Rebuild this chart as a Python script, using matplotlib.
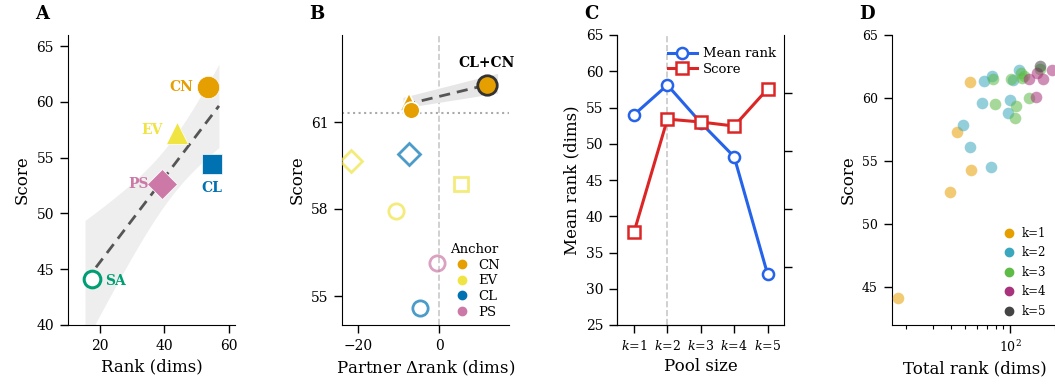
import numpy as np
import matplotlib
matplotlib.use("Agg")
import matplotlib.pyplot as plt
from matplotlib.lines import Line2D

plt.rcParams["font.family"] = "serif"
plt.rcParams["font.serif"] = ["DejaVu Serif"]
plt.rcParams["mathtext.fontset"] = "dejavuserif"

# ---- panel A: single encoders ----
names = ["SA", "PS", "EV", "CN", "CL"]
rank = [17.6, 39.4, 43.9, 53.7, 54.7]
score = [44.1, 52.6, 57.2, 61.3, 54.4]

# ---- panel B: partner delta rank vs pair score ----
b_dx = [-21.9, -7.4, 5.4, -10.8, -0.6, -4.9]
b_score = [59.64, 59.9, 58.87, 57.92, 56.15, 54.6]
b_anchor = ["EV", "CL", "EV", "EV", "PS", "CL"]
b_marker = ["D", "D", "s", "o", "o", "o"]
cn_dx = [-7.4, -7.0]
cn_score = [61.68, 61.42]
cn_marker = ["^", "o"]
best_dx, best_score = 11.8, 62.28
trend_x = [-8.7, 11.8]
trend_y = [61.59, 62.28]
band_x = [-9.0, 14.4]
band_lo = [61.48, 62.0]
band_hi = [61.85, 62.68]

# ---- panel C: pool size ----
pool = [1, 2, 3, 4, 5]
mean_rank = [54.0, 58.1, 52.9, 48.2, 32.0]
pool_score = [59.6, 61.55, 61.5, 61.43, 62.07]

# ---- panel D: total rank vs score by k ----
d_rank = {
    1: [17.4, 39.3, 43.6, 54.5, 53.9],
    2: [48.3, 53.7, 74.4, 64.7, 66.7, 75.6, 100.5, 97.4, 104.3, 115.0],
    3: [77.1, 101.0, 118.0, 125.0, 121.0, 159.5, 79.2, 109.8, 108.1, 134.4],
    4: [135.0, 151.0, 167.0, 191.0, 149.0],
    5: [158.7],
}
d_score = {
    1: [44.12, 52.53, 57.29, 54.3, 61.26],
    2: [57.9, 56.13, 54.5, 59.64, 61.39, 61.76, 59.88, 58.85, 61.44, 62.24],
    3: [61.5, 61.55, 61.95, 61.75, 61.6, 62.3, 59.54, 59.33, 58.45, 59.99],
    4: [61.5, 61.95, 61.5, 62.2, 60.12],
    5: [62.58],
}

col = {"CN": "#E69F00", "EV": "#F0E442", "CL": "#0072B2", "PS": "#CC79A7", "SA": "#009E73"}
kcol = {1: "#E69F00", 2: "#3BA7BF", 3: "#5DBB46", 4: "#A8327B", 5: "#444444"}

fig = plt.figure(figsize=(10.55, 3.88), dpi=100)
W, H = 1055, 388
bot, hgt = (H - 325) / H, 290 / H
axw = 167 / W
axA = fig.add_axes([68 / W, bot, axw, hgt])
axB = fig.add_axes([342.3 / W, bot, axw, hgt])
axC = fig.add_axes([617.3 / W, bot, axw, hgt])
axD = fig.add_axes([891.7 / W, bot, axw, hgt])

for ax in [axA, axB, axC, axD]:
    ax.spines["top"].set_visible(False)
    ax.spines["right"].set_visible(False)
    ax.tick_params(labelsize=10, length=5.5, width=1, pad=4.5)
for ax, lab in zip([axA, axB, axC, axD], "ABCD"):
    x0 = ax.get_position().x0
    fig.text(x0 - 33 / W, 1 - 5 / H, lab, fontsize=13, fontweight="bold", va="top")

# A
x = np.array(rank)
y = np.array(score)
slope, icpt = np.polyfit(x, y, 1)
res = y - (slope * x + icpt)
s = np.sqrt((res ** 2).sum() / (len(x) - 2))
xs = np.linspace(15.3, 57, 100)
se = s * np.sqrt(1 / len(x) + (xs - x.mean()) ** 2 / ((x - x.mean()) ** 2).sum())
yfit = slope * xs + icpt
axA.fill_between(xs, yfit - 1.638 * se, yfit + 1.638 * se, color="#eeeeee", lw=0, zorder=1)
axA.plot(xs, yfit, ls=(0, (4, 2.5)), color="#555555", lw=2, zorder=2)
shapes = {"SA": "o", "PS": "D", "EV": "^", "CN": "o", "CL": "s"}
sizes = {"SA": 12, "PS": 15, "EV": 16, "CN": 16, "CL": 15}
for n, xi, yi in zip(names, rank, score):
    if n == "SA":
        axA.plot(xi, yi, marker="o", ms=sizes[n], mfc="white", mec=col[n], mew=2.2, zorder=3)
    else:
        axA.plot(xi, yi, marker=shapes[n], ms=sizes[n], color=col[n], mec="white", mew=0.5, zorder=3)
offs = {"SA": (9, -1, "left", "center"), "PS": (-10, 0, "right", "center"),
        "EV": (-10, 2, "right", "center"), "CN": (-11, 0, "right", "center"),
        "CL": (0, -17, "center", "center")}
for n, xi, yi in zip(names, rank, score):
    dx, dy, ha, va = offs[n]
    axA.annotate(n, (xi, yi), xytext=(dx, dy), textcoords="offset points", ha=ha, va=va,
                 color=col[n], fontweight="bold", fontsize=10)
axA.set_xlim(10, 62)
axA.set_ylim(40, 66)
axA.set_xticks([20, 40, 60])
axA.set_yticks([40, 45, 50, 55, 60, 65])
axA.set_xlabel("Rank (dims)", fontsize=12)
axA.set_ylabel("Score", fontsize=12)

# B
axB.axvline(0, color="#c8c8c8", ls="--", lw=1.2, zorder=0)
axB.axhline(score[names.index("CN")], color="#aaaaaa", ls=":", lw=1.5, zorder=0)
axB.fill_between(band_x, band_lo, band_hi, color="#e6e6e6", lw=0, zorder=1)
axB.plot(trend_x, trend_y, ls=(0, (4, 2.5)), color="#555555", lw=2, zorder=2)
for dxi, yi, a, m in zip(b_dx, b_score, b_anchor, b_marker):
    ms = {"D": 11, "s": 10, "o": 11}[m]
    axB.plot(dxi, yi, marker=m, ms=ms, mfc="none", mec=col[a], mew=2, alpha=0.7, zorder=3)
for dxi, yi, m in zip(cn_dx, cn_score, cn_marker):
    axB.plot(dxi, yi, marker=m, ms=13 if m == "^" else 12, color=col["CN"], mec="white",
             mew=1.2, zorder=4)
axB.plot(best_dx, best_score, marker="o", ms=14, color=col["CN"], mec="#333333", mew=2, zorder=5)
axB.annotate("CL+CN", (best_dx, best_score), xytext=(0, 16), textcoords="offset points",
             ha="center", va="center", fontweight="bold", fontsize=10)
hb = [Line2D([], [], marker="o", ls="", color=col[a], ms=6) for a in ["CN", "EV", "CL", "PS"]]
axB.legend(hb, ["CN", "EV", "CL", "PS"], title="Anchor", loc="lower right", frameon=False,
           fontsize=9.5, title_fontsize=9.5, handletextpad=0.2, labelspacing=0.2,
           borderaxespad=0.3, bbox_to_anchor=(1.0, -0.01))
axB.set_xlim(-24, 17.3)
axB.set_ylim(54, 64)
axB.set_xticks([-20, 0])
axB.set_yticks([55, 58, 61])
axB.set_xlabel("Partner $\\Delta$rank (dims)", fontsize=12)
axB.set_ylabel("Score", fontsize=12)

# C
blue, red = "#2563EB", "#DC2626"
axC.axvline(2, color="#c8c8c8", ls="--", lw=1.2, zorder=0)
l1, = axC.plot(pool, mean_rank, "-o", color=blue, lw=2.2, ms=8, mfc="white", mew=1.8, zorder=3)
axC2 = axC.twinx()
axC2.spines["top"].set_visible(False)
l2, = axC2.plot(pool, pool_score, "-s", color=red, lw=2.2, ms=8, mfc="white", mew=1.8, zorder=3)
axC2.set_ylim(58, 63)
axC2.set_yticks([59, 60, 61, 62])
axC2.tick_params(labelright=False, length=5.5, width=1)
axC.set_xlim(0.5, 5.5)
axC.set_ylim(25, 65)
axC.set_xticks(pool)
axC.set_xticklabels([f"$k$={k}" for k in pool], fontsize=9)
axC.set_xlabel("Pool size", fontsize=12)
axC.set_ylabel("Mean rank (dims)", fontsize=12)
axC.legend([l1, l2], ["Mean rank", "Score"], loc="upper right", frameon=False, fontsize=9.5,
           handlelength=2.2, handletextpad=0.5, labelspacing=0.2, borderaxespad=0.2,
           bbox_to_anchor=(1.0, 0.985))

# D
for k in d_rank:
    axD.scatter(d_rank[k], d_score[k], s=70, color=kcol[k], alpha=0.55, lw=0, zorder=3)
hd = [Line2D([], [], marker="o", ls="", color=kcol[k], ms=6) for k in d_rank]
axD.legend(hd, [f"k={k}" for k in d_rank], loc="lower right", frameon=False, fontsize=8.5,
           handletextpad=0.1, labelspacing=0.55, borderaxespad=0.2, bbox_to_anchor=(0.97, 0.0))
axD.set_xscale("log")
axD.set_xlim(15.9, 213)
axD.set_ylim(42, 65)
axD.set_yticks([45, 50, 55, 60, 65])
axD.tick_params(labelsize=9)
axD.tick_params(which="minor", length=3, width=0.8)
axD.set_xlabel("Total rank (dims)", fontsize=12)
axD.set_ylabel("Score", fontsize=12)

fig.savefig("out.png", dpi=100)
